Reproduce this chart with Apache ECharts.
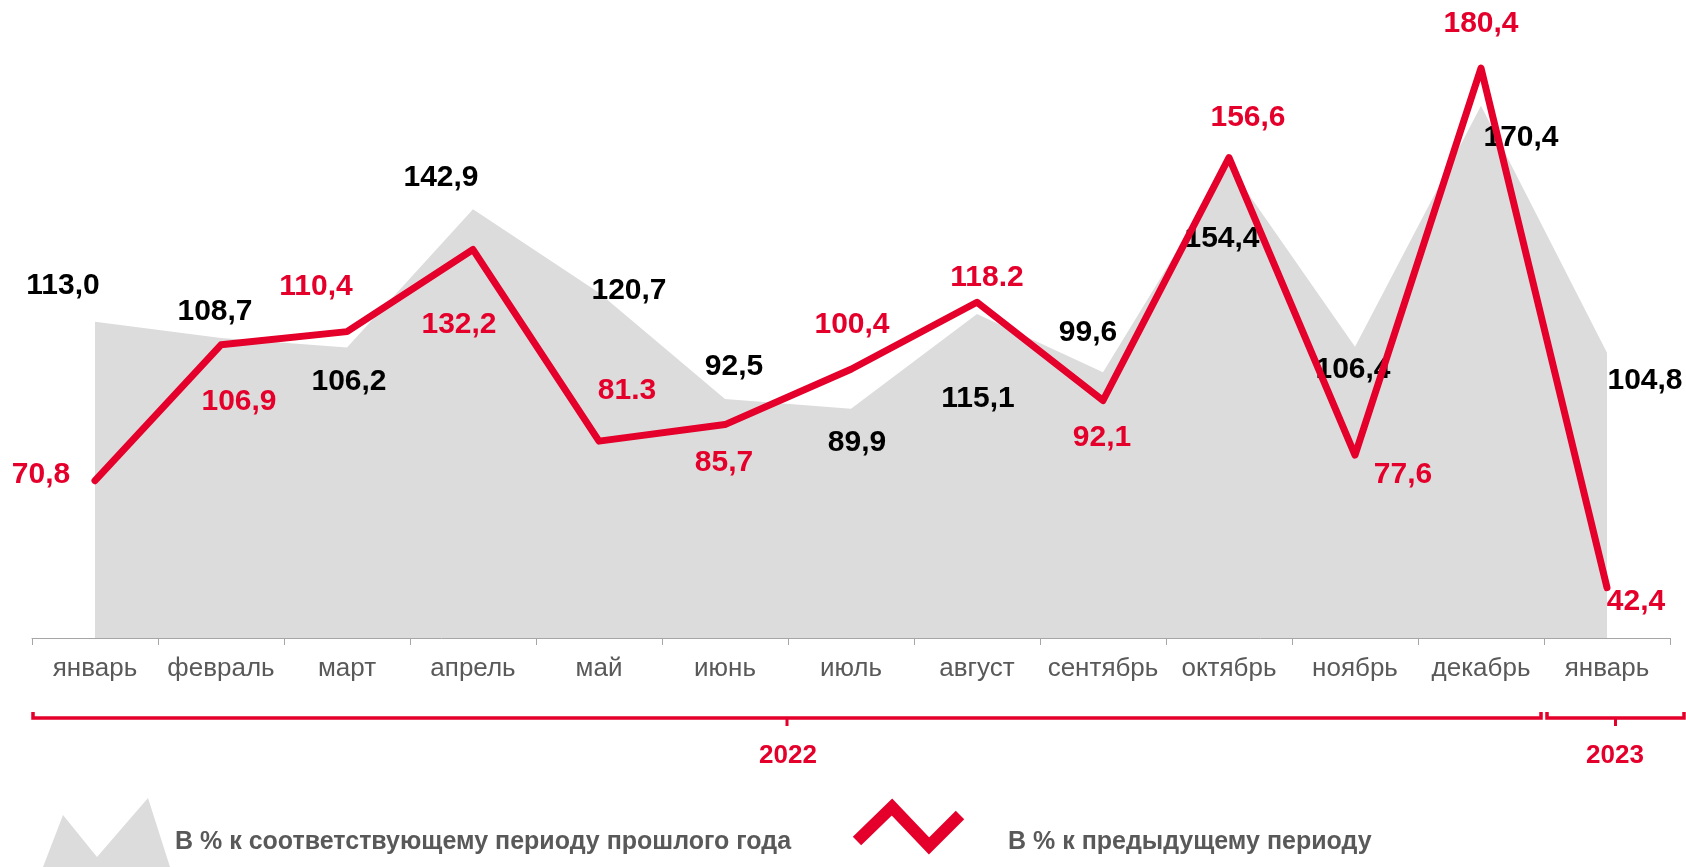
<!DOCTYPE html>
<html>
<head>
<meta charset="utf-8">
<script src="https://cdn.jsdelivr.net/npm/echarts@6/dist/echarts.min.js"></script>
<style>
  html, body { margin: 0; padding: 0; background: #fff; }
  #main { width: 1686px; height: 867px; }
</style>
</head>
<body>
<div id="main"></div>
<script>
var months = ['январь', 'февраль', 'март', 'апрель', 'май', 'июнь', 'июль', 'август', 'сентябрь', 'октябрь', 'ноябрь', 'декабрь', 'январь'];
// в % к соответствующему периоду прошлого года
var yoyValues = [113.0, 108.7, 106.2, 142.9, 120.7, 92.5, 89.9, 115.1, 99.6, 154.4, 106.4, 170.4, 104.8];
var yoyLabels = ['113,0', '108,7', '106,2', '142,9', '120,7', '92,5', '89,9', '115,1', '99,6', '154,4', '106,4', '170,4', '104,8'];
// в % к предыдущему периоду
var momValues = [70.8, 106.9, 110.4, 132.2, 81.3, 85.7, 100.4, 118.2, 92.1, 156.6, 77.6, 180.4, 42.4];
var momLabels = ['70,8', '106,9', '110,4', '132,2', '81.3', '85,7', '100,4', '118.2', '92,1', '156,6', '77,6', '180,4', '42,4'];
var years = ['2022', '2023'];

// label offsets (px) relative to the point
var yoyOffsets = [[-32, -36], [-6, -26], [2, 34], [-32, -32], [30, -2], [9, -32], [6, 34], [1, 85], [-15, -40], [-7, 73], [-2, 23], [40, 32], [38, 28]];
var momOffsets = [[-54, -6], [18, 57], [-31, -45], [-14, 75], [28, -50], [-1, 38], [1, -45], [10, -25], [-1, 37], [19, -40], [48, 20], [0, -44], [29, 14]];

var RED = '#e4002b';
var FONT = '"Liberation Sans", Arial, sans-serif';
var gridLeft = 32, gridRight = 16, W = 1686;
var step = (W - gridLeft - gridRight) / months.length;

var chart = echarts.init(document.getElementById('main'));

function bracket(x1, x2, y) {
    var mid = (x1 + x2) / 2;
    return [
        { type: 'polyline', shape: { points: [[x1, y - 6], [x1, y], [x2, y], [x2, y - 6]] }, style: { stroke: RED, lineWidth: 3.5, fill: null } },
        { type: 'line', shape: { x1: mid, y1: y, x2: mid, y2: y + 8 }, style: { stroke: RED, lineWidth: 3 } }
    ];
}

var split = gridLeft + step * 12;
var graphics = []
    .concat(bracket(gridLeft + 1, split - 3, 718))
    .concat(bracket(split + 3, W - 2, 718))
    .concat([
        { type: 'text', x: (gridLeft + split) / 2, y: 756, style: { text: years[0], fill: RED, font: 'bold 26px ' + FONT, textAlign: 'center', textVerticalAlign: 'middle' } },
        { type: 'text', x: (split + W) / 2, y: 756, style: { text: years[1], fill: RED, font: 'bold 26px ' + FONT, textAlign: 'center', textVerticalAlign: 'middle' } },
        // legend
        { type: 'polygon', shape: { points: [[43, 867], [63, 815], [97, 857], [148, 798], [170, 867]] }, style: { fill: '#dcdcdc' } },
        { type: 'text', x: 175, y: 842, style: { text: 'В % к соответствующему периоду прошлого года', fill: '#595959', font: 'bold 25px ' + FONT, textVerticalAlign: 'middle' } },
        { type: 'polyline', shape: { points: [[857, 841], [892, 807], [929, 846], [960, 815]] }, style: { stroke: RED, lineWidth: 12, fill: null, lineJoin: 'miter' } },
        { type: 'text', x: 1008, y: 842, style: { text: 'В % к предыдущему периоду', fill: '#595959', font: 'bold 25px ' + FONT, textVerticalAlign: 'middle' } }
    ]);

var option = {
    animation: false,
    grid: { left: gridLeft, right: gridRight, top: 32, bottom: 229, containLabel: false },
    xAxis: {
        type: 'category',
        data: months,
        boundaryGap: true,
        axisLine: { lineStyle: { color: '#a6a6a6', width: 1 } },
        axisTick: { show: true, length: 7, lineStyle: { color: '#a6a6a6' } },
        axisLabel: { color: '#595959', fontSize: 26, fontFamily: FONT, margin: 18, interval: 0 }
    },
    yAxis: {
        type: 'value', min: 29, max: 190, show: false,
        splitLine: { show: false }
    },
    series: [
        {
            name: 'В % к соответствующему периоду прошлого года',
            type: 'line',
            symbol: 'circle',
            symbolSize: 0,
            showSymbol: true,
            lineStyle: { width: 0 },
            areaStyle: { color: '#dcdcdc', opacity: 1, origin: 'start' },
            z: 1,
            data: yoyValues.map(function (v, i) {
                return { value: v, label: { offset: yoyOffsets[i], formatter: yoyLabels[i] } };
            }),
            label: { show: true, position: 'inside', color: '#000', fontSize: 30, fontWeight: 'bold', fontFamily: FONT }
        },
        {
            name: 'В % к предыдущему периоду',
            type: 'line',
            symbol: 'circle',
            symbolSize: 0,
            showSymbol: true,
            lineStyle: { width: 7, color: RED, cap: 'round', join: 'round' },
            itemStyle: { color: RED },
            z: 2,
            data: momValues.map(function (v, i) {
                return { value: v, label: { offset: momOffsets[i], formatter: momLabels[i] } };
            }),
            label: { show: true, position: 'inside', color: RED, fontSize: 30, fontWeight: 'bold', fontFamily: FONT }
        }
    ],
    graphic: graphics
};
chart.setOption(option);
</script>
</body>
</html>
